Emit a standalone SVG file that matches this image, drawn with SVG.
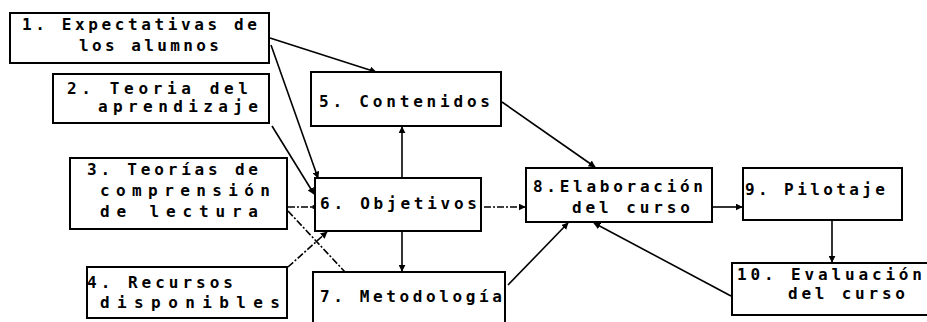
<svg xmlns="http://www.w3.org/2000/svg" width="927" height="322" viewBox="0 0 927 322">
  <defs>
    <style>
      .box { fill: #fff; stroke: #000; stroke-width: 2; }
      .lbl { font-family: "DejaVu Sans Mono", "Liberation Mono", monospace; font-weight: bold; font-size: 16px; fill: #000; }
      .edge { fill: none; stroke: #000; stroke-width: 1.6; }
      .dash { stroke-dasharray: 7 2 2 2; }
    </style>
    <marker id="arrow" viewBox="0 0 10 10" refX="9" refY="5" markerWidth="7" markerHeight="7" markerUnits="userSpaceOnUse" orient="auto">
      <path d="M0,0 L10,5 L0,10 z" fill="#000"/>
    </marker>
  </defs>
  <rect width="927" height="322" fill="#fff"/>

  <!-- connectors -->
  <g id="connectors">
    <line class="edge" x1="270" y1="38" x2="376" y2="72" marker-end="url(#arrow)"/>
    <line class="edge" x1="271" y1="45" x2="318" y2="178" marker-end="url(#arrow)"/>
    <line class="edge" x1="272" y1="126" x2="314" y2="194" marker-end="url(#arrow)"/>
    <line class="edge dash" x1="288" y1="207" x2="314" y2="207"/>
    <circle cx="314" cy="207" r="2" fill="#000"/>
    <line class="edge dash" x1="288" y1="211" x2="345" y2="272"/>
    <line class="edge dash" x1="288" y1="267" x2="327" y2="232" marker-end="url(#arrow)"/>
    <line class="edge" x1="402" y1="178" x2="402" y2="127" marker-end="url(#arrow)"/>
    <line class="edge" x1="402" y1="231" x2="402" y2="271" marker-end="url(#arrow)"/>
    <line class="edge dash" x1="484" y1="207" x2="525" y2="207" marker-end="url(#arrow)"/>
    <line class="edge" x1="502" y1="102" x2="595" y2="167" marker-end="url(#arrow)"/>
    <line class="edge" x1="508" y1="285" x2="568" y2="223" marker-end="url(#arrow)"/>
    <line class="edge" x1="731" y1="296" x2="594" y2="223" marker-end="url(#arrow)"/>
    <line class="edge" x1="713" y1="207" x2="742" y2="207" marker-end="url(#arrow)"/>
    <line class="edge" x1="832" y1="220" x2="832" y2="262" marker-end="url(#arrow)"/>
  </g>

  <g id="n1">
    <rect class="box" x="10" y="13" width="259" height="50"/>
    <text class="lbl" x="22" y="30" textLength="235" lengthAdjust="spacing">1. Expectativas de</text>
    <text class="lbl" x="79" y="51" textLength="140" lengthAdjust="spacing">los alumnos</text>
  </g>
  <g id="n2">
    <rect class="box" x="53" y="74" width="216" height="49"/>
    <text class="lbl" x="67" y="94" textLength="181" lengthAdjust="spacing">2. Teoria del</text>
    <text class="lbl" x="98" y="112" textLength="160" lengthAdjust="spacing">aprendizaje</text>
  </g>
  <g id="n3">
    <rect class="box" x="70" y="158" width="217" height="71"/>
    <text class="lbl" x="87" y="175" textLength="171" lengthAdjust="spacing">3. Teorías de</text>
    <text class="lbl" x="100" y="196" textLength="170" lengthAdjust="spacing">comprensión</text>
    <text class="lbl" x="100" y="217" textLength="158" lengthAdjust="spacing">de lectura</text>
  </g>
  <g id="n4">
    <rect class="box" x="87" y="267" width="200" height="51"/>
    <text class="lbl" x="87" y="288" textLength="146" lengthAdjust="spacing">4. Recursos</text>
    <text class="lbl" x="100" y="308" textLength="180" lengthAdjust="spacing">disponibles</text>
  </g>
  <g id="n5">
    <rect class="box" x="311" y="72" width="190" height="54"/>
    <text class="lbl" x="319" y="107" textLength="171" lengthAdjust="spacing">5. Contenidos</text>
  </g>
  <g id="n6">
    <rect class="box" x="315" y="178" width="166" height="53"/>
    <text class="lbl" x="320" y="209" textLength="157" lengthAdjust="spacing">6. Objetivos</text>
  </g>
  <g id="n7">
    <rect class="box" x="313" y="272" width="192" height="60"/>
    <text class="lbl" x="320" y="302" textLength="182" lengthAdjust="spacing">7. Metodología</text>
  </g>
  <g id="n8">
    <rect class="box" x="526" y="168" width="186" height="54"/>
    <text class="lbl" x="533" y="192" textLength="170" lengthAdjust="spacing">8.Elaboración</text>
    <text class="lbl" x="572" y="213" textLength="118" lengthAdjust="spacing">del curso</text>
  </g>
  <g id="n9">
    <rect class="box" x="743" y="168" width="159" height="52"/>
    <text class="lbl" x="745" y="195" textLength="140" lengthAdjust="spacing">9. Pilotaje</text>
  </g>
  <g id="n10">
    <rect class="box" x="732" y="263" width="200" height="52"/>
    <text class="lbl" x="737" y="280" textLength="185" lengthAdjust="spacing">10. Evaluación</text>
    <text class="lbl" x="788" y="299" textLength="117" lengthAdjust="spacing">del curso</text>
  </g>
</svg>
